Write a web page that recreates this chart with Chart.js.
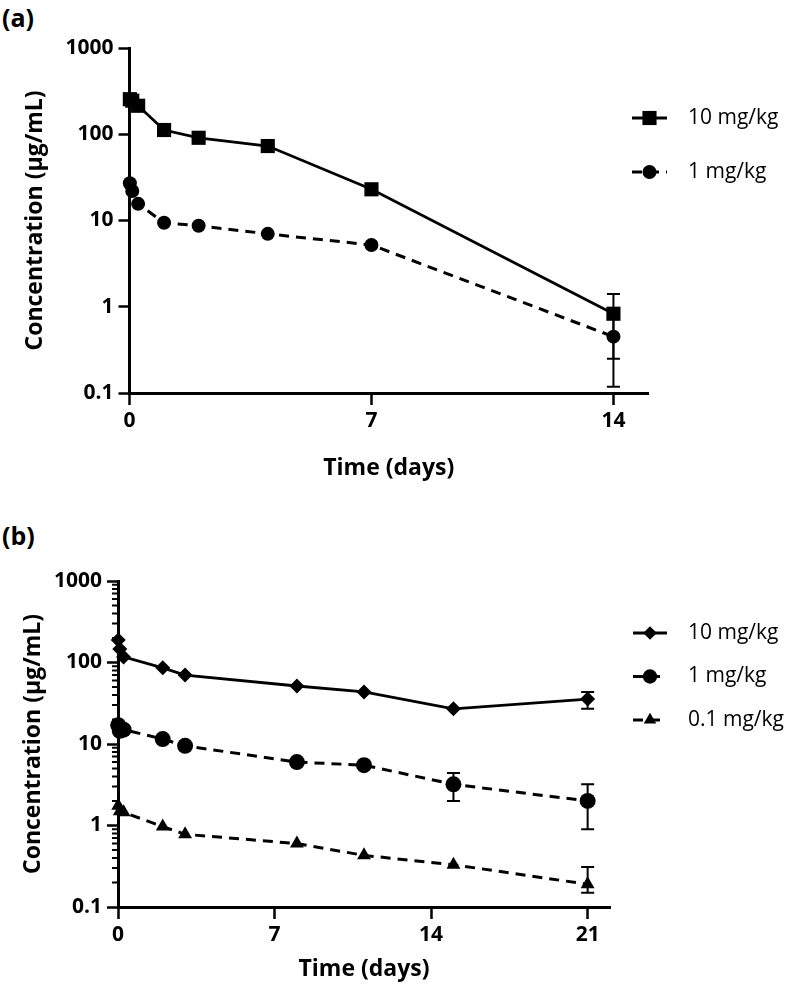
<!DOCTYPE html>
<html>
<head>
<meta charset="utf-8">
<script src="https://cdn.jsdelivr.net/npm/chart.js@4/dist/chart.umd.min.js"></script>
<style>
  body { margin: 0; background: #fff; }
  #wrap { position: relative; width: 800px; height: 993px; background: #fff; }
  #wrap canvas { position: absolute; left: 0; }
  .panel { position: absolute; left: 2px; font: bold 25px "Open Sans", sans-serif; color: #000; }
</style>
</head>
<body>
<div id="wrap">
  <div class="panel" style="top:0px">(a)</div>
  <canvas id="chartA" width="800" height="490" style="top:0"></canvas>
  <div class="panel" style="top:518px">(b)</div>
  <canvas id="chartB" width="800" height="503" style="top:490px"></canvas>
</div>
<script>
// ---- panel (a) data ----
const timeA = [0.01, 0.08, 0.25, 1, 2, 4, 7, 14];
const concA10 = [255, 245, 214, 112, 91, 73, 23, 0.83];
const concA1 = [27, 22, 15.6, 9.4, 8.7, 7.0, 5.2, 0.45];
// error bar ends (null = no bar)
const lowA10 = [null, null, null, null, null, null, null, 0.25];
const highA10 = [null, null, null, null, null, null, null, 1.41];
const lowA1 = [null, null, null, null, null, null, null, 0.118];
const highA1 = [null, null, null, null, null, null, null, 0.78];
const xTicksA = [0, 7, 14];

// ---- panel (b) data ----
const timeB = [0.01, 0.08, 0.25, 2, 3, 8, 11, 15, 21];
const concB10 = [189, 146, 117, 86, 70, 51.5, 43.5, 27, 35.6];
const concB1 = [17, 14.5, 15, 11.5, 9.5, 6.0, 5.5, 3.2, 2.0];
const concB01 = [1.75, 1.5, 1.45, 0.97, 0.78, 0.6, 0.43, 0.33, 0.19];
const lowB10 = [null, null, null, null, null, null, null, null, 27];
const highB10 = [null, null, null, null, null, null, null, null, 43.5];
const lowB1 = [null, null, null, null, null, null, null, 2.0, 0.9];
const highB1 = [null, null, null, null, null, null, null, 4.4, 3.2];
const lowB01 = [null, null, null, null, null, null, null, null, 0.15];
const highB01 = [null, null, null, null, null, null, null, null, 0.31];
const xTicksB = [0, 7, 14, 21];

const yTicks = [0.1, 1, 10, 100, 1000];
const yMinorTicks = [];
yTicks.slice(0, -1).forEach((d) => {
  for (let k = 2; k <= 9; k++) yMinorTicks.push(+(d * k).toPrecision(2));
});

const FONT = '"Open Sans", sans-serif';
const tickFont = { family: FONT, size: 21, weight: 'bold' };
const titleFont = { family: FONT, size: 23, weight: 'bold' };

Chart.defaults.color = '#000';

function points(xs, ys) {
  return xs.map((x, i) => ({ x: x, y: ys[i] }));
}

function series(label, xs, ys, lows, highs, style, radius, dashed) {
  return {
    label: label,
    data: points(xs, ys),
    errLow: lows,
    errHigh: highs,
    showLine: true,
    borderColor: '#000',
    backgroundColor: '#000',
    borderWidth: dashed ? 3 : 2.8,
    borderDash: dashed ? [10, 7] : [],
    pointStyle: style,
    pointRadius: radius,
    pointBorderWidth: 0,
    pointBackgroundColor: '#000',
    tension: 0,
    clip: false,
  };
}

// error bars, drawn under the markers
const errorBars = {
  id: 'errorBars',
  beforeDatasetsDraw(chart) {
    const ctx = chart.ctx;
    const xs = chart.scales.x;
    const ys = chart.scales.y;
    const cap = 6.5;
    ctx.save();
    ctx.strokeStyle = '#000';
    ctx.lineWidth = 2;
    chart.data.datasets.forEach((ds) => {
      ds.data.forEach((p, i) => {
        if (ds.errLow[i] == null) return;
        const px = xs.getPixelForValue(p.x);
        const lo = ys.getPixelForValue(ds.errLow[i]);
        const hi = ys.getPixelForValue(ds.errHigh[i]);
        ctx.beginPath();
        ctx.moveTo(px, lo);
        ctx.lineTo(px, hi);
        ctx.moveTo(px - cap, lo);
        ctx.lineTo(px + cap, lo);
        ctx.moveTo(px - cap, hi);
        ctx.lineTo(px + cap, hi);
        ctx.stroke();
      });
    });
    ctx.restore();
  },
};

// minor log ticks on the y axis (panel b)
const minorTicks = {
  id: 'minorTicks',
  afterDraw(chart, args, opts) {
    if (!opts.show) return;
    const ctx = chart.ctx;
    const ys = chart.scales.y;
    const left = chart.chartArea.left;
    ctx.save();
    ctx.strokeStyle = '#000';
    ctx.lineWidth = 2;
    ctx.beginPath();
    yMinorTicks.forEach((v) => {
      const py = ys.getPixelForValue(v);
      ctx.moveTo(left - opts.len, py);
      ctx.lineTo(left, py);
    });
    ctx.stroke();
    ctx.restore();
  },
};

// legend: line segment + marker + text
const lineLegend = {
  id: 'lineLegend',
  afterDraw(chart, args, opts) {
    const ctx = chart.ctx;
    chart.data.datasets.forEach((ds, i) => {
      const y = opts.top + i * opts.gap;
      ctx.save();
      ctx.strokeStyle = '#000';
      ctx.fillStyle = '#000';
      ctx.lineWidth = ds.borderWidth;
      ctx.setLineDash(ds.borderDash);
      ctx.beginPath();
      ctx.moveTo(opts.left, y);
      ctx.lineTo(opts.left + opts.len, y);
      ctx.stroke();
      ctx.setLineDash([]);
      Chart.helpers.drawPoint(ctx, { pointStyle: ds.pointStyle, radius: ds.pointRadius * opts.scale, borderWidth: 0 }, opts.left + opts.len / 2, y);
      ctx.font = '21px ' + FONT;
      ctx.textBaseline = 'middle';
      ctx.fillText(ds.label, opts.textX, y);
      ctx.restore();
    });
  },
};

function makeChart(id, datasets, cfg) {
  return new Chart(document.getElementById(id), {
    type: 'scatter',
    data: { datasets: datasets },
    options: {
      responsive: false,
      animation: false,
      events: [],
      layout: { padding: cfg.padding },
      plugins: {
        legend: { display: false },
        tooltip: { enabled: false },
        minorTicks: { show: cfg.minor, len: 6 },
        lineLegend: cfg.legend,
      },
      scales: {
        x: {
          type: 'linear',
          min: 0,
          max: cfg.xMax,
          afterBuildTicks: (s) => { s.ticks = cfg.xTicks.map((v) => ({ value: v })); },
          afterFit: (s) => { s.height = cfg.xHeight; },
          border: { display: true, width: 3, color: '#000' },
          grid: { display: true, drawOnChartArea: false, drawTicks: true, tickLength: 12, tickWidth: 2.5, tickColor: '#000' },
          ticks: { font: tickFont, color: '#000', padding: 3, maxRotation: 0, callback: (v) => String(v) },
          title: { display: true, text: 'Time (days)', font: titleFont, color: '#000' },
        },
        y: {
          type: 'logarithmic',
          min: 0.1,
          max: 1000,
          afterBuildTicks: (s) => { s.ticks = yTicks.map((v) => ({ value: v })); },
          afterFit: (s) => { s.width = cfg.yWidth; },
          border: { display: true, width: 3, color: '#000' },
          grid: { display: true, drawOnChartArea: false, drawTicks: true, tickLength: 11, tickWidth: 2.5, tickColor: '#000' },
          ticks: { font: tickFont, color: '#000', padding: 5, callback: (v) => String(v) },
          title: { display: true, text: 'Concentration (\u03bcg/mL)', font: titleFont, color: '#000' },
        },
      },
    },
    plugins: [errorBars, minorTicks, lineLegend],
  });
}

makeChart('chartA', [
  series('10 mg/kg', timeA, concA10, lowA10, highA10, 'rect', 10, false),
  series('1 mg/kg', timeA, concA1, lowA1, highA1, 'circle', 7, true),
], {
  padding: { top: 48, right: 152, bottom: 4, left: 18 },
  xMax: 15,
  xTicks: xTicksA,
  xHeight: 93,
  yWidth: 111.5,
  minor: false,
  legend: { left: 632, len: 35, textX: 688, top: 118, gap: 54, scale: 1 },
});

makeChart('chartB', [
  series('10 mg/kg', timeB, concB10, lowB10, highB10, 'rectRot', 7.5, false),
  series('1 mg/kg', timeB, concB1, lowB1, highB1, 'circle', 8, true),
  series('0.1 mg/kg', timeB, concB01, lowB01, highB01, 'triangle', 8, true),
], {
  padding: { top: 91, right: 190, bottom: 6, left: 16 },
  xMax: 22,
  xTicks: xTicksB,
  xHeight: 80,
  yWidth: 102,
  minor: true,
  legend: { left: 633, len: 34, textX: 688, top: 143, gap: 43.5, scale: 0.9 },
});
</script>
</body>
</html>
